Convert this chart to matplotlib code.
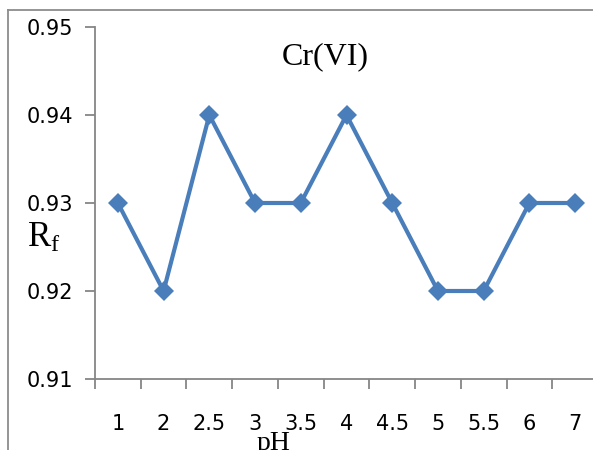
import matplotlib
matplotlib.use("Agg")
import matplotlib.pyplot as plt
from matplotlib.lines import Line2D

plt.rcParams['mathtext.fontset'] = 'custom'
plt.rcParams['mathtext.rm'] = 'Liberation Serif'
plt.rcParams['mathtext.it'] = 'Liberation Serif:italic'

ph_labels = ['1', '2', '2.5', '3', '3.5', '4', '4.5', '5', '5.5', '6', '7']
rf_values = [0.93, 0.92, 0.94, 0.93, 0.93, 0.94, 0.93, 0.92, 0.92, 0.93, 0.93]
y_ticks = [0.91, 0.92, 0.93, 0.94, 0.95]

W, H = 593, 450
fig = plt.figure(figsize=(W / 100, H / 100), dpi=100)
ax = fig.add_axes([95 / W, 71 / H, 503 / W, 352 / H])

grey = '#868686'
blue = '#4A7EBB'
tick_font = 'DejaVu Sans'

x = list(range(len(ph_labels)))
ax.plot(x, rf_values, color=blue, lw=3, marker='D', ms=10.5,
        markeredgewidth=0, solid_joinstyle='miter', clip_on=False)

ax.set_xlim(-0.5, len(ph_labels) - 0.5)
ax.set_ylim(0.91, 0.95)

# tick marks sit between categories, labels sit on them
ax.set_xticks([i - 0.5 for i in range(len(ph_labels))])
ax.set_xticklabels([])
ax.set_xticks(x, minor=True)
ax.set_xticklabels(ph_labels, minor=True, fontsize=15, family=tick_font)
ax.tick_params(axis='x', which='major', length=7, width=1.3, color=grey, direction='out')
ax.tick_params(axis='x', which='minor', length=0, pad=25)

ax.set_yticks(y_ticks)
ax.set_yticklabels(['%.2f' % v for v in y_ticks], fontsize=15, family=tick_font)
ax.tick_params(axis='y', length=7, width=1.3, color=grey, direction='out', pad=9)

for side in ['top', 'right']:
    ax.spines[side].set_visible(False)
for side in ['left', 'bottom']:
    ax.spines[side].set_color(grey)
    ax.spines[side].set_linewidth(1.3)

fig.text(325 / W, 1 - 57 / H, 'Cr(VI)', family='Liberation Serif', fontsize=23,
         ha='center', va='center')
fig.text(27 / W, 1 - 237 / H, r'$\mathrm{R_f}$', fontsize=25, ha='left', va='center')
fig.text(257 / W, 1 - 450 / H, 'pH', family='Liberation Serif', fontsize=20,
         ha='left', va='baseline')

# outer frame on left and top
fig.add_artist(Line2D([8 / W, 8 / W], [0, 1 - 10 / H], color='#8c8c8c', lw=1.3))
fig.add_artist(Line2D([8 / W, 1], [1 - 10 / H, 1 - 10 / H], color='#8c8c8c', lw=1.3))

fig.savefig('out.png', dpi=100)
